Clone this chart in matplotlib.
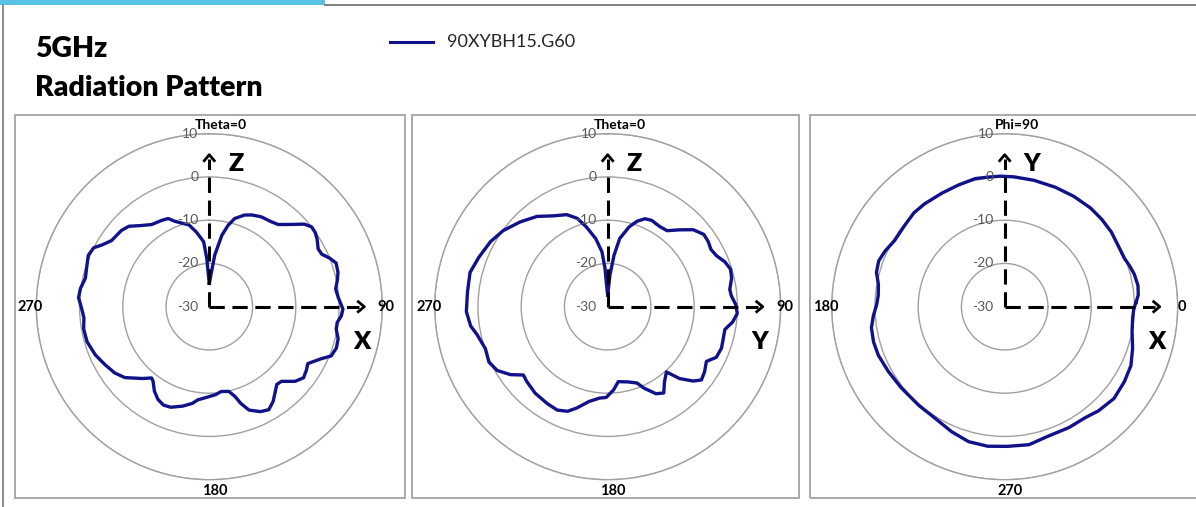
import numpy as np
import matplotlib
matplotlib.use("Agg")
import matplotlib.pyplot as plt
from matplotlib.patches import Rectangle
from matplotlib.lines import Line2D

plt.rcParams['font.family'] = ['Lato', 'DejaVu Sans']

# E-plane cut, Theta sweep (X-Z plane), gain in dBi
xz_theta = [0, 6, 10, 13, 16, 21, 25, 30, 36, 40, 45, 49, 52, 55, 58, 62, 65, 68, 71, 75,
            78, 82, 86, 91, 94, 97, 100, 104, 108, 112, 115, 120, 123, 127, 131, 136, 139, 142, 146, 150,
            154, 159, 162, 164, 167, 172, 176, 182, 187, 190, 195, 201, 205, 209, 213, 217, 219, 223, 230, 235,
            241, 247, 254, 260, 265, 269, 274, 278, 283, 287, 293, 297, 300, 304, 311, 315, 320, 325, 331, 335,
            338, 342, 346, 350, 355, 357, 358]
xz_gain = [-24.6, -18.0, -13.2, -10.7, -8.8, -7.3, -6.6, -6.0, -5.7, -5.2, -3.1, -0.9, 0.0, -0.1, -0.6, -1.5, -1.3, 0.0, 1.0, 0.8,
           0.3, -0.5, -0.1, 0.9, 0.6, -0.2, -0.2, 0.7, 0.9, 0.4, -1.5, -3.7, -3.2, -2.7, -3.7, -6.0, -6.2, -5.2, -3.6, -2.5,
           -3.0, -4.4, -6.5, -8.4, -9.9, -10.2, -9.6, -9.0, -8.3, -7.3, -6.2, -5.1, -4.9, -5.5, -6.7, -8.4, -8.8, -7.3, -4.5, -3.3,
           -2.4, -1.4, -0.6, -0.5, -0.9, -0.5, 0.3, 0.1, -0.6, -0.3, 0.4, 0.0, -1.4, -2.7, -3.1, -3.7, -5.5, -6.8, -7.2, -7.5,
           -8.7, -9.7, -10.5, -12.4, -14.9, -18.8, -21.9]

# Theta sweep in the Y-Z plane
yz_theta = [0, 4, 7, 10, 15, 19, 23, 27, 33, 38, 43, 48, 53, 57, 61, 65, 69, 73, 77, 82,
            85, 89, 93, 97, 101, 105, 110, 115, 119, 124, 128, 131, 135, 138, 143, 147, 151, 156, 159, 165,
            172, 176, 181, 185, 191, 197, 201, 206, 212, 220, 227, 231, 235, 240, 245, 251, 258, 262, 268, 276,
            284, 291, 299, 306, 314, 322, 329, 336, 341, 345, 350, 354, 356, 357]
yz_gain = [-27.3, -22.7, -18.0, -14.0, -10.9, -9.1, -7.9, -7.6, -7.9, -7.7, -5.7, -3.4, -2.2, -2.3, -2.7, -2.2, -1.0, -0.3, -0.6, -1.5,
           -1.3, -0.4, 0.0, -0.9, -2.4, -2.3, -2.0, -2.3, -3.9, -3.0, -2.5, -3.8, -6.5, -9.7, -8.2, -6.2, -7.0, -9.4, -11.1, -12.0,
           -12.5, -10.7, -9.0, -8.8, -7.7, -5.5, -4.1, -3.4, -3.6, -3.9, -4.5, -4.9, -2.6, -0.5, 0.3, -0.1, 0.9, 2.0, 2.7, 2.6,
           2.8, 1.9, 1.0, -0.1, -1.8, -3.5, -5.5, -6.7, -8.4, -10.9, -14.0, -17.2, -21.1, -25.0]

# Azimuth cut, Phi sweep in the X-Y plane
xy_phi = [2, 5, 9, 14, 18, 22, 29, 35, 42, 49, 58, 67, 77, 86, 92, 97, 103, 111, 119, 128,
          134, 141, 149, 155, 160, 165, 170, 175, 179, 184, 189, 195, 201, 209, 218, 229, 238, 247, 255, 263,
          271, 280, 288, 298, 306, 312, 320, 328, 335, 342, 349, 355, 359]
xy_gain = [0.4, 1.0, 1.2, 0.9, 0.4, -0.15, -0.2, 0.1, 0.2, 0.25, 0.1, 0.0, 0.0, 0.1, 0.2, 0.2, 0.4, 0.1, 0.0, 0.15,
           0.2, -0.2, -0.3, 0.5, 1.0, 0.7, -0.35, -0.65, -0.4, 0.45, 1.2, 1.4, 1.3, 0.8, 0.4, 0.25, 0.4, 1.4, 2.3, 2.5,
           2.3, 2.4, 1.6, 1.65, 1.7, 2.4, 3.0, 2.65, 2.2, 1.1, 0.0, -0.3, -0.15]

ring_levels = [-30, -20, -10, 0, 10]
series_name = '90XYBH15.G60'
line_color = '#11118a'

W, H = 1196, 507
fig = plt.figure(figsize=(W / 100, H / 100), dpi=100)

# page decoration: blue tab, frame lines
fig.add_artist(Rectangle((0, 1 - 4.5 / H), 325 / W, 4.5 / H, transform=fig.transFigure,
                         facecolor='#5bc2e7', edgecolor='none'))
fig.add_artist(Line2D([325 / W, 1], [1 - 4.5 / H] * 2, transform=fig.transFigure, color='#7f7f7f', lw=1.4))
fig.add_artist(Line2D([2.5 / W] * 2, [0, 1 - 4.5 / H], transform=fig.transFigure, color='#8c8c8c', lw=1.4))

fig.text(35 / W, 1 - 57 / H, '5GHz', fontsize=20.5, fontweight='heavy', va='baseline')
fig.text(35 / W, 1 - 96 / H, 'Radiation Pattern', fontsize=20.5, fontweight='heavy', va='baseline')

fig.add_artist(Line2D([390 / W, 433 / W], [1 - 41.5 / H] * 2, transform=fig.transFigure,
                      color=line_color, lw=2.2))
fig.text(447 / W, 1 - 42 / H, series_name, fontsize=13, va='center', color='#262626')

R = 173.0
cy = 306.7
panels = [
    dict(cx=209.3, box=(15, 405), theta=xz_theta, gain=xz_gain, loc='N', direction=-1,
         top='Theta=0', right='90', bottom='180', left='270', up='Z', side='X'),
    dict(cx=607.7, box=(412, 799), theta=yz_theta, gain=yz_gain, loc='N', direction=-1,
         top='Theta=0', right='90', bottom='180', left='270', up='Z', side='Y'),
    dict(cx=1004.7, box=(810, 1205), theta=xy_phi, gain=xy_gain, loc='E', direction=1,
         top='Phi=90', right='0', bottom='270', left='180', up='Y', side='X'),
]

for p in panels:
    x0, x1 = p['box']
    fig.add_artist(Rectangle((x0 / W, 1 - 498 / H), (x1 - x0) / W, 383 / H, transform=fig.transFigure,
                             facecolor='none', edgecolor='#a3a3a3', lw=1.3))

    ax = fig.add_axes([(p['cx'] - R) / W, (H - cy - R) / H, 2 * R / W, 2 * R / H], projection='polar')
    ax.set_theta_zero_location(p['loc'])
    ax.set_theta_direction(p['direction'])
    ax.set_ylim(ring_levels[0], ring_levels[-1])
    ax.set_yticks(ring_levels[1:])
    ax.set_yticklabels([])
    ax.set_xticks([])
    ax.yaxis.grid(True, color='#a0a0a0', lw=1.0)
    ax.spines['polar'].set_color('#a0a0a0')
    ax.spines['polar'].set_linewidth(1.0)
    ax.patch.set_alpha(0)

    t = np.deg2rad(p['theta'] + [p['theta'][0] + 360])
    g = p['gain'] + [p['gain'][0]]
    ax.plot(t, g, color=line_color, lw=2.4, solid_joinstyle='round', zorder=5)

    # level labels up the vertical axis
    for lv in ring_levels:
        frac = 0.5 + 0.5 * (lv - ring_levels[0]) / (ring_levels[-1] - ring_levels[0])
        ax.text(0.5 - 11 / (2 * R), frac, str(lv), transform=ax.transAxes, ha='right', va='center',
                fontsize=10, color='#595959', zorder=6)

    # angle labels
    k = 1 / (2 * R)
    ax.text(0.5 + 12 * k, 0.5 + 182 * k, p['top'], transform=ax.transAxes, ha='center', va='center',
            fontsize=10, fontweight='bold')
    ax.text(0.5 + 177 * k, 0.5, p['right'], transform=ax.transAxes, ha='center', va='center',
            fontsize=10.5, fontweight='bold')
    ax.text(0.5 - 179 * k, 0.5, p['left'], transform=ax.transAxes, ha='center', va='center',
            fontsize=10.5, fontweight='bold')
    ax.text(0.5 + 5 * k, 0.5 - 184 * k, p['bottom'], transform=ax.transAxes, ha='center', va='center',
            fontsize=10.5, fontweight='bold')

    # coordinate axes: dashed arrows with open heads
    ax.plot([0.5, 0.5], [0.5, 0.5 + 148 * k], transform=ax.transAxes, color='black', lw=2.2,
            dashes=(5, 2.5), clip_on=False, zorder=7)
    ax.plot([0.5, 0.5 + 150 * k], [0.5, 0.5], transform=ax.transAxes, color='black', lw=2.2,
            dashes=(5, 2.5), clip_on=False, zorder=7)
    ax.plot([0.5 - 5 * k, 0.5, 0.5 + 5 * k], [0.5 + 146 * k, 0.5 + 152 * k, 0.5 + 146 * k],
            transform=ax.transAxes, color='black', lw=2.0, clip_on=False, zorder=7)
    ax.plot([0.5 + 149 * k, 0.5 + 155 * k, 0.5 + 149 * k], [0.5 + 5 * k, 0.5, 0.5 - 5 * k],
            transform=ax.transAxes, color='black', lw=2.0, clip_on=False, zorder=7)
    ax.text(0.5 + 27 * k, 0.5 + 143 * k, p['up'], transform=ax.transAxes, ha='center', va='center',
            fontsize=18, fontweight='heavy')
    ax.text(0.5 + 152 * k, 0.5 - 35 * k, p['side'], transform=ax.transAxes, ha='center', va='center',
            fontsize=18, fontweight='heavy')

fig.savefig('out.png', dpi=100)
